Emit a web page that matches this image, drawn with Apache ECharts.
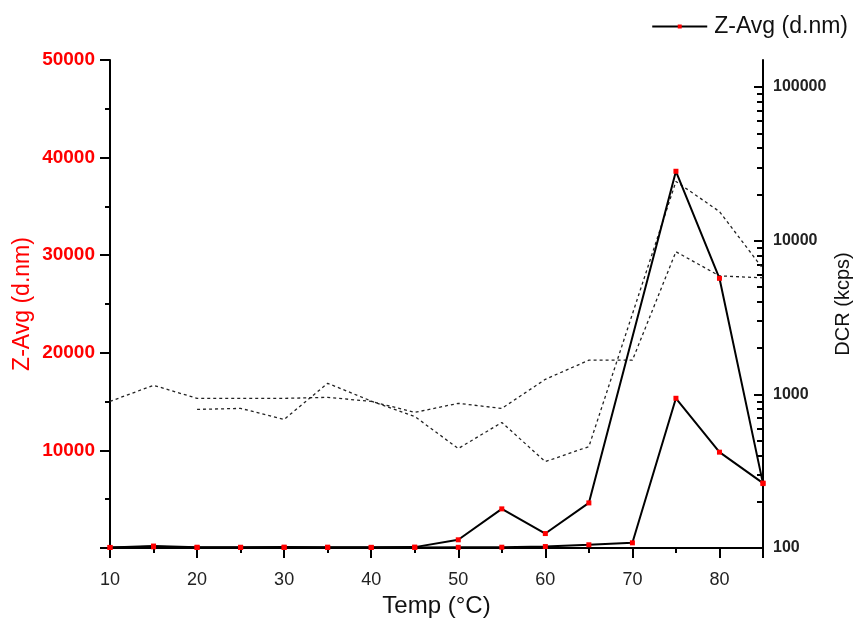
<!DOCTYPE html>
<html><head><meta charset="utf-8">
<script src="https://cdn.jsdelivr.net/npm/echarts@6/dist/echarts.min.js"></script>
<style>html,body{margin:0;padding:0;background:#fff}#c{width:855px;height:623px}</style>
</head><body><div id="c"></div>
<script>
// ---- data ----
const temps = [10,15,20,25,30,35,40,45,50,55,60,65,70,75,80,85];
const zavgRun1 = [60,200,80,70,90,80,70,90,840,4010,1480,4620,null,38600,27630,6600];
const zavgRun2 = [50,120,50,60,50,60,50,60,70,80,150,330,530,15340,9820,6650];
const dcrRun1 = [900,1145,942,942,942,956,900,763,874,810,1253,1668,1668,8475,5904,5730];
const dcrRun2 = [null,null,798,810,687,1180,905,718,444,656,365,457,null,24300,15480,6560];
const xTickLabels = [10,20,30,40,50,60,70,80];
const leftTickLabels = [10000,20000,30000,40000,50000];
const rightTickLabels = [100,1000,10000,100000];
const rightMinorTicks = [200,300,400,500,600,700,800,900,2000,3000,4000,5000,6000,7000,8000,9000,20000,30000,40000,50000,60000,70000,80000,90000];

const pair = arr => temps.map((t,i) => [t, arr[i]]);
const FONT = 'Liberation Sans, Arial, sans-serif';
const rMax = 150000;

const chart = echarts.init(document.getElementById('c'));
chart.setOption({
  animation: false,
  backgroundColor: '#fff',
  textStyle: { fontFamily: FONT },
  legend: {
    data: ['Z-Avg (d.nm)'],
    right: 2, top: 10,
    itemWidth: 55, itemHeight: 5, itemGap: 5,
    textStyle: { fontSize: 23, color: '#111', fontFamily: FONT, padding: [0, 0, 0, 2] }
  },
  grid: { left: 110, right: 92, top: 60, bottom: 75, containLabel: false, outerBoundsMode: 'none' },
  xAxis: [{
    type: 'value', min: 10, max: 85, interval: 5,
    name: 'Temp (°C)', nameLocation: 'middle', nameGap: 46, nameMoveOverlap: false,
    nameTextStyle: { fontSize: 24, color: '#111', fontFamily: FONT },
    axisLine: { lineStyle: { color: '#000', width: 2 } },
    axisTick: { length: 5, lineStyle: { color: '#000', width: 2 } },
    axisLabel: { margin: 23, fontSize: 18, color: '#222', fontFamily: FONT,
      formatter: v => xTickLabels.includes(v) ? String(v) : '' },
    splitLine: { show: false }
  }, {
    type: 'value', min: 10, max: 85, interval: 10, position: 'bottom',
    axisLine: { show: false },
    axisTick: { length: 10, lineStyle: { color: '#000', width: 2 } },
    axisLabel: { show: false }, splitLine: { show: false }
  }],
  yAxis: [{
    type: 'value', min: 0, max: 50000, interval: 10000, position: 'left',
    name: 'Z-Avg (d.nm)', nameLocation: 'middle', nameGap: 76, nameMoveOverlap: false,
    nameTextStyle: { fontSize: 23, color: '#ff0000', fontFamily: FONT },
    axisLine: { show: true, lineStyle: { color: '#000', width: 2 } },
    axisTick: { length: 10, lineStyle: { color: '#000', width: 2 } },
    minorTick: { show: true, splitNumber: 2, length: 5, lineStyle: { color: '#000', width: 2 } },
    axisLabel: { margin: 15, fontSize: 19, fontWeight: 'bold', color: '#ff0000', fontFamily: FONT,
      formatter: v => leftTickLabels.includes(v) ? String(v) : '' },
    splitLine: { show: false }
  }, {
    type: 'log', logBase: 10, min: 100, max: rMax, position: 'right',
    name: 'DCR (kcps)', nameLocation: 'middle', nameGap: 70, nameMoveOverlap: false,
    nameTextStyle: { fontSize: 20, color: '#111', fontFamily: FONT },
    axisLine: { show: true, lineStyle: { color: '#000', width: 2 } },
    axisTick: { show: false },
    axisLabel: { margin: 10, fontSize: 16, fontWeight: 'bold', color: '#222', fontFamily: FONT,
      formatter: v => rightTickLabels.includes(Math.round(v)) ? String(Math.round(v)) : '' },
    splitLine: { show: false }
  }, {
    type: 'value', min: 2, max: Math.log10(rMax), position: 'right',
    axisLine: { show: false },
    axisTick: { show: true, inside: true, length: 9, customValues: rightTickLabels.map(v => Math.log10(v)),
      lineStyle: { color: '#000', width: 2 } },
    axisLabel: { show: false }, splitLine: { show: false }
  }, {
    type: 'value', min: 2, max: Math.log10(rMax), position: 'right',
    axisLine: { show: false },
    axisTick: { show: true, inside: true, length: 6, customValues: rightMinorTicks.map(v => Math.log10(v)),
      lineStyle: { color: '#000', width: 2 } },
    axisLabel: { show: false }, splitLine: { show: false }
  }],
  series: [{
    name: 'DCR run 1', type: 'line', yAxisIndex: 1, data: pair(dcrRun1),
    showSymbol: false, connectNulls: true, z: 1,
    lineStyle: { color: '#222', width: 1.3, type: [3, 3] }, itemStyle: { color: '#222' }
  }, {
    name: 'DCR run 2', type: 'line', yAxisIndex: 1, data: pair(dcrRun2),
    showSymbol: false, connectNulls: true, z: 1,
    lineStyle: { color: '#222', width: 1.3, type: [3, 3] }, itemStyle: { color: '#222' }
  }, {
    name: 'Z-Avg (d.nm)', type: 'line', yAxisIndex: 0, data: pair(zavgRun2),
    symbol: 'rect', symbolSize: 5, connectNulls: true, z: 3,
    lineStyle: { color: '#000', width: 2 }, itemStyle: { color: '#ff0000' }
  }, {
    name: 'Z-Avg (d.nm)', type: 'line', yAxisIndex: 0, data: pair(zavgRun1),
    symbol: 'rect', symbolSize: 5, connectNulls: true, z: 3,
    lineStyle: { color: '#000', width: 2 }, itemStyle: { color: '#ff0000' }
  }]
});
</script></body></html>
